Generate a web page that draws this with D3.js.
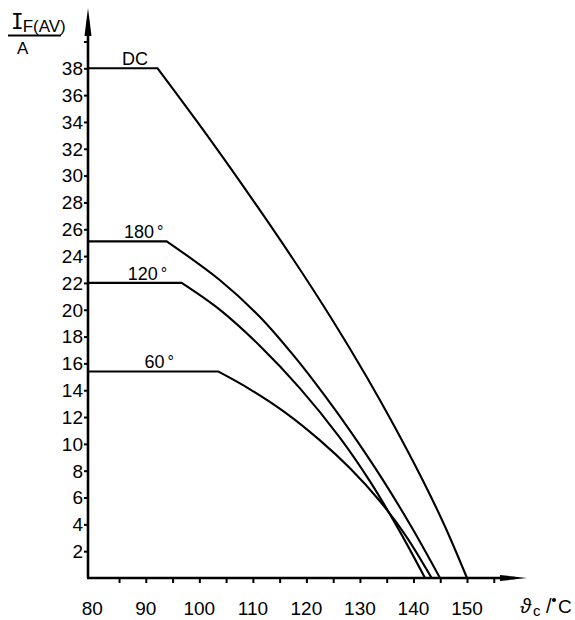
<!DOCTYPE html>
<html>
<head>
<meta charset="utf-8">
<script src="https://cdn.jsdelivr.net/npm/d3@7/dist/d3.min.js"></script>
<style>
  html, body { margin: 0; padding: 0; background: #fff; }
  svg { display: block; }
  text { font-family: "Liberation Sans", Arial, sans-serif; fill: #000; }
</style>
</head>
<body>
<svg id="chart" width="575" height="620"></svg>
<script>
// Derating curves: average forward current vs. case temperature
const xLabelTicks = [80, 90, 100, 110, 120, 130, 140, 150];
const xMinorTicks = [85, 90, 95, 100, 105, 110, 115, 120, 125, 130, 135, 140, 145, 150, 155];
const yLabelTicks = [2, 4, 6, 8, 10, 12, 14, 16, 18, 20, 22, 24, 26, 28, 30, 32, 34, 36, 38];
const yMinorTicks = [2, 4, 6, 8, 10, 12, 14, 16, 18, 20, 22, 24, 26, 28, 30, 32, 34, 36, 38, 40];

const seriesNames = ["DC", "180", "120", "60"];
const seriesHasDegree = [false, true, true, true];
// temperature (°C) where each curve's label is centred
const labelTemp = [88.0, 89.6, 90.3, 92.5];

// first point of each list is the knee where the flat limit ends
const dcTemp    = [92.2, 99.56, 107.6, 117.5, 124.97, 131.32, 136.18, 141.78, 145.89, 150.0];
const dcCurrent = [38.0, 34.04, 29.55, 23.78, 19.16, 14.95, 11.5, 7.25, 3.84, 0];

const c180Temp    = [93.9, 103.86, 111.33, 118.24, 123.29, 128.14, 134.31, 139.72, 144.95];
const c180Current = [25.1, 22.2, 19.46, 16.28, 13.67, 10.99, 7.3, 3.74, 0];

const c120Temp    = [96.7, 103.86, 111.33, 118.8, 126.28, 131.88, 137.49, 142.16];
const c120Current = [22.0, 19.99, 17.3, 14.14, 10.45, 7.2, 3.44, 0];

const c60Temp    = [103.5, 109.46, 116.0, 122.54, 128.15, 133.75, 138.42, 143.4];
const c60Current = [15.4, 14.07, 12.35, 10.26, 8.18, 5.72, 3.24, 0];

const seriesTemp = [dcTemp, c180Temp, c120Temp, c60Temp];
const seriesCurrent = [dcCurrent, c180Current, c120Current, c60Current];

const svg = d3.select("#chart");

const x = d3.scaleLinear().domain([79.2, 150]).range([88, 467]);
const y = d3.scaleLinear().domain([0, 38]).range([578, 68.3]);

const x0 = x.range()[0];
const y0 = y(0);

// curves
const curve = d3.line()
  .x(d => x(d[0]))
  .y(d => y(d[1]))
  .curve(d3.curveCatmullRom.alpha(0.5));

seriesNames.forEach((name, i) => {
  const pts = seriesTemp[i].map((t, j) => [t, seriesCurrent[i][j]]);
  const flatStart = "M" + x0 + "," + y(pts[0][1]);
  const d = flatStart + "L" + curve(pts).slice(1);
  svg.append("path")
    .attr("d", d)
    .attr("fill", "none")
    .attr("stroke", "#000")
    .attr("stroke-width", 2.1)
    .attr("stroke-linejoin", "miter");

  const lbl = svg.append("text")
    .attr("x", x(labelTemp[i]))
    .attr("y", y(pts[0][1]) - 3)
    .attr("text-anchor", "middle")
    .attr("font-size", 18)
    .text(name);
  if (seriesHasDegree[i]) {
    lbl.append("tspan").attr("dx", 3).attr("dy", -1).attr("font-size", 16).text("°");
  }
});

// axes lines with arrowheads
svg.append("line")
  .attr("x1", x0).attr("y1", y0).attr("x2", x0).attr("y2", 20)
  .attr("stroke", "#000").attr("stroke-width", 2.6);
svg.append("path")
  .attr("d", `M${x0},8 L${x0 + 3.5},36 L${x0 - 3.5},36 Z`)
  .attr("fill", "#000");

svg.append("line")
  .attr("x1", x0 - 1).attr("y1", y0).attr("x2", 515).attr("y2", y0)
  .attr("stroke", "#000").attr("stroke-width", 2.6);
svg.append("path")
  .attr("d", `M527,${y0} L500,${y0 - 3} L500,${y0 + 3} Z`)
  .attr("fill", "#000");

// x ticks
const xTickG = svg.append("g")
  .attr("transform", `translate(0,${y0})`)
  .call(d3.axisBottom(x).tickValues(xMinorTicks).tickSize(5).tickFormat(""));
xTickG.select(".domain").remove();
xTickG.selectAll(".tick line").attr("stroke", "#000").attr("stroke-width", 2);

svg.append("g").selectAll("text")
  .data(xLabelTicks)
  .join("text")
  .attr("x", d => x(d))
  .attr("y", 615)
  .attr("text-anchor", "middle")
  .attr("font-size", 19)
  .text(d => d);

// y ticks
const yTickG = svg.append("g")
  .attr("transform", `translate(${x0},0)`)
  .call(d3.axisLeft(y).tickValues(yMinorTicks).tickSize(4).tickFormat(""));
yTickG.select(".domain").remove();
yTickG.selectAll(".tick line").attr("stroke", "#000").attr("stroke-width", 2);

svg.append("g").selectAll("text")
  .data(yLabelTicks)
  .join("text")
  .attr("x", 83)
  .attr("y", d => y(d))
  .attr("dy", "0.36em")
  .attr("text-anchor", "end")
  .attr("font-size", 19)
  .text(d => d);

// y-axis quantity: I_F(AV) / A
const yt = svg.append("text").attr("x", 11).attr("y", 29);
yt.append("tspan")
  .attr("font-family", "DejaVu Sans Mono, monospace")
  .attr("font-size", 21)
  .text("I");
yt.append("tspan")
  .attr("dy", 3)
  .attr("dx", -1)
  .attr("font-size", 17)
  .text("F(AV)");
svg.append("line")
  .attr("x1", 8).attr("x2", 61).attr("y1", 35.5).attr("y2", 35.5)
  .attr("stroke", "#000").attr("stroke-width", 1.8);
svg.append("text")
  .attr("x", 17).attr("y", 54)
  .attr("font-size", 17)
  .text("A");

// x-axis quantity: ϑc / °C
const xTitle = svg.append("g");
xTitle.append("text").attr("x", 520).attr("y", 613).attr("font-size", 20)
  .attr("font-style", "italic").text("ϑ");
xTitle.append("text").attr("x", 533).attr("y", 616).attr("font-size", 15).text("c");
xTitle.append("text").attr("x", 546).attr("y", 613).attr("font-size", 20).text("/");
xTitle.append("circle").attr("cx", 554).attr("cy", 600).attr("r", 2).attr("fill", "#000");
xTitle.append("text").attr("x", 558).attr("y", 613).attr("font-size", 19).text("C");
</script>
</body>
</html>
